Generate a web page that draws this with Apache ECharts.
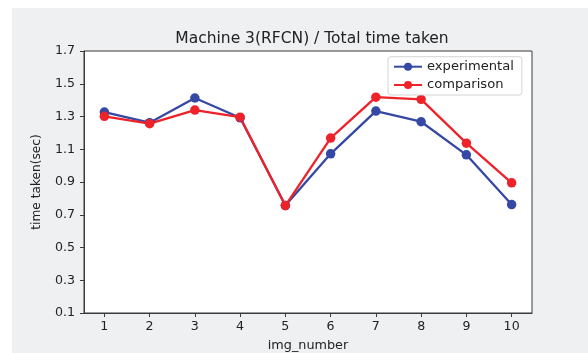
<!DOCTYPE html>
<html>
<head>
<meta charset="utf-8">
<script src="https://cdn.jsdelivr.net/npm/echarts@6/dist/echarts.min.js"></script>
<style>
html,body{margin:0;padding:0;background:#fff;}
#wrap{position:relative;width:588px;height:353px;overflow:hidden;background:#fff;}
#bg{position:absolute;left:12px;top:8px;right:0;bottom:0;background:#eff0f2;}
#chart{position:absolute;left:0;top:0;width:588px;height:353px;}
</style>
</head>
<body>
<div id="wrap"><div id="bg"></div><div id="chart"></div></div>
<script>
const categories = [1, 2, 3, 4, 5, 6, 7, 8, 9, 10];
const experimental = [1.327, 1.262, 1.413, 1.292, 0.756, 1.072, 1.333, 1.268, 1.066, 0.762];
const comparison = [1.301, 1.256, 1.339, 1.296, 0.756, 1.168, 1.418, 1.405, 1.137, 0.895];
const xTicks = [1, 2, 3, 4, 5, 6, 7, 8, 9, 10];
const yTicks = [0.1, 0.3, 0.5, 0.7, 0.9, 1.1, 1.3, 1.5, 1.7];

const FONT = 'DejaVu Sans';
const TXT = '#222';
const AX = '#3a3a3a';

const chart = echarts.init(document.getElementById('chart'), null, {renderer: 'canvas'});
chart.setOption({
  animation: false,
  textStyle: {fontFamily: FONT},
  title: {
    text: 'Machine 3(RFCN) / Total time taken',
    left: 307, top: 26, textAlign: 'center',
    textStyle: {fontFamily: FONT, fontSize: 15.5, fontWeight: 'normal', color: TXT}
  },
  legend: {
    orient: 'vertical',
    left: 388, top: 56.7,
    backgroundColor: '#fff',
    borderColor: '#d4d4d4', borderWidth: 1, borderRadius: 3,
    padding: [3, 8, 3, 5],
    itemWidth: 28, itemHeight: 10, itemGap: 4.3,
    textStyle: {fontFamily: FONT, fontSize: 13.1, color: TXT, lineHeight: 14},
    data: ['experimental', 'comparison']
  },
  grid: {
    left: 84, right: 56, top: 51, bottom: 40,
    containLabel: false, outerBoundsMode: 'none',
    show: true, backgroundColor: '#fff', borderColor: AX, borderWidth: 1
  },
  xAxis: {
    type: 'value', min: 0.55, max: 10.45,
    name: 'img_number', nameLocation: 'middle', nameGap: 26,
    nameTextStyle: {fontFamily: FONT, fontSize: 12.8, color: TXT},
    axisLine: {show: true, lineStyle: {color: AX, width: 1}},
    axisTick: {show: true, length: 4, lineStyle: {color: AX}, customValues: xTicks},
    axisLabel: {fontFamily: FONT, fontSize: 12.6, color: TXT, margin: 7, customValues: xTicks,
      formatter: v => String(v)},
    splitLine: {show: false}
  },
  yAxis: {
    type: 'value', min: 0.1, max: 1.7,
    name: 'time taken(sec)', nameLocation: 'middle', nameGap: 41, nameRotate: 90,
    nameTextStyle: {fontFamily: FONT, fontSize: 12.2, color: TXT},
    axisLine: {show: true, lineStyle: {color: AX, width: 1}},
    axisTick: {show: true, length: 4, lineStyle: {color: AX}, customValues: yTicks},
    axisLabel: {fontFamily: FONT, fontSize: 12.6, color: TXT, margin: 9, customValues: yTicks,
      formatter: v => Number(v).toFixed(1)},
    splitLine: {show: false}
  },
  series: [
    {
      name: 'experimental', type: 'line',
      data: categories.map((c, i) => [c, experimental[i]]),
      symbol: 'circle', symbolSize: 9.5,
      itemStyle: {color: '#3548a3'},
      lineStyle: {color: '#3548a3', width: 2.3}
    },
    {
      name: 'comparison', type: 'line',
      data: categories.map((c, i) => [c, comparison[i]]),
      symbol: 'circle', symbolSize: 9.5,
      itemStyle: {color: '#ee2229'},
      lineStyle: {color: '#ee2229', width: 2.3}
    }
  ]
});
</script>
</body>
</html>
